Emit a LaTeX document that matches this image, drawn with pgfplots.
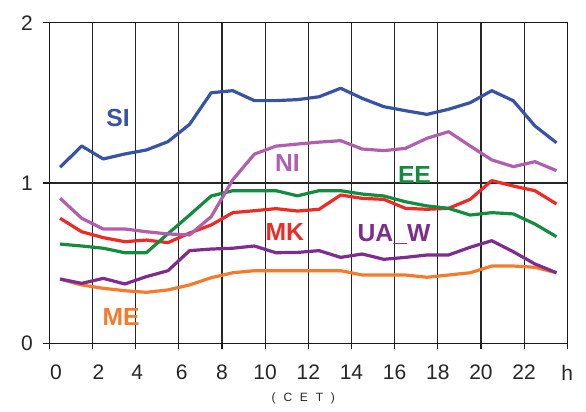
\documentclass[border=0pt]{standalone}
\usepackage{fontspec}
\setmainfont{Liberation Sans}
\usepackage{pgfplots}
\pgfplotsset{compat=1.18}
\definecolor{cSI}{HTML}{3953A4}
\definecolor{cNI}{HTML}{B05FB0}
\definecolor{cEE}{HTML}{148B3E}
\definecolor{cMK}{HTML}{EE2A24}
\definecolor{cUA}{HTML}{7E2C8E}
\definecolor{cME}{HTML}{F47B2C}
\begin{document}
\begin{tikzpicture}
\useasboundingbox (-49.3bp,-68.7bp) rectangle (536.7bp,343.3bp);
\begin{axis}[
  at={(0,0)}, anchor=origin,
  scale only axis, width=518bp, height=320.6bp,
  xmin=0, xmax=24, ymin=0, ymax=2,
  xtick={0,2,...,24},
  xticklabels={\hspace{13.4bp}0,\hspace{12bp}2,\hspace{3.4bp}4,\hspace{6bp}6,8\hspace{6bp},10,12,14,16,18,20,22,h},
  ytick={0,1,2},
  tick pos=left, tick align=outside,
  major tick length=6bp,
  tick style={black!90, line width=1.2bp},
  axis line style={black!90, line width=1.4bp},
  grid=major,
  major grid style={black!85, line width=1.1bp},
  /pgf/number format/assume math mode=true,
  ticklabel style={font=\fontsize{21bp}{21bp}\selectfont, text=black!85},
  xticklabel style={yshift=-12bp},
  yticklabel style={xshift=-7bp},
  every axis plot/.append style={line width=3.2bp, line join=round, mark=none},
  clip=false,
]
% ME
\addplot[cME] coordinates {(0.5,0.40)(1.5,0.364)(2.5,0.343)(3.5,0.328)(4.5,0.318)(5.5,0.333)(6.5,0.364)(7.5,0.409)(8.5,0.44)(9.5,0.453)(10.5,0.453)(11.5,0.453)(12.5,0.453)(13.5,0.453)(14.5,0.426)(15.5,0.426)(16.5,0.426)(17.5,0.412)(18.5,0.426)(19.5,0.44)(20.5,0.482)(21.5,0.482)(22.5,0.474)(23.5,0.44)};
% UA_W
\addplot[cUA] coordinates {(0.5,0.401)(1.5,0.374)(2.5,0.405)(3.5,0.370)(4.5,0.416)(5.5,0.453)(6.5,0.578)(7.5,0.588)(8.5,0.593)(9.5,0.607)(10.5,0.565)(11.5,0.567)(12.5,0.578)(13.5,0.536)(14.5,0.557)(15.5,0.524)(16.5,0.536)(17.5,0.551)(18.5,0.551)(19.5,0.599)(20.5,0.64)(21.5,0.571)(22.5,0.495)(23.5,0.44)};
% MK
\addplot[cMK] coordinates {(0.5,0.78)(1.5,0.696)(2.5,0.659)(3.5,0.634)(4.5,0.644)(5.5,0.628)(6.5,0.688)(7.5,0.738)(8.5,0.815)(9.5,0.827)(10.5,0.84)(11.5,0.825)(12.5,0.836)(13.5,0.925)(14.5,0.904)(15.5,0.898)(16.5,0.842)(17.5,0.836)(18.5,0.842)(19.5,0.898)(20.5,1.015)(21.5,0.981)(22.5,0.952)(23.5,0.869)};
% EE
\addplot[cEE] coordinates {(0.5,0.619)(1.5,0.607)(2.5,0.593)(3.5,0.565)(4.5,0.565)(5.5,0.684)(6.5,0.80)(7.5,0.919)(8.5,0.952)(9.5,0.952)(10.5,0.952)(11.5,0.92)(12.5,0.952)(13.5,0.952)(14.5,0.931)(15.5,0.919)(16.5,0.883)(17.5,0.857)(18.5,0.842)(19.5,0.80)(20.5,0.815)(21.5,0.807)(22.5,0.744)(23.5,0.665)};
% NI
\addplot[cNI] coordinates {(0.5,0.905)(1.5,0.78)(2.5,0.713)(3.5,0.713)(4.5,0.696)(5.5,0.682)(6.5,0.676)(7.5,0.79)(8.5,1.02)(9.5,1.18)(10.5,1.23)(11.5,1.243)(12.5,1.255)(13.5,1.264)(14.5,1.212)(15.5,1.202)(16.5,1.216)(17.5,1.279)(18.5,1.32)(19.5,1.231)(20.5,1.144)(21.5,1.102)(22.5,1.133)(23.5,1.077)};
% SI
\addplot[cSI] coordinates {(0.5,1.098)(1.5,1.231)(2.5,1.150)(3.5,1.181)(4.5,1.206)(5.5,1.258)(6.5,1.366)(7.5,1.563)(8.5,1.576)(9.5,1.514)(10.5,1.514)(11.5,1.52)(12.5,1.538)(13.5,1.591)(14.5,1.528)(15.5,1.476)(16.5,1.451)(17.5,1.428)(18.5,1.46)(19.5,1.501)(20.5,1.576)(21.5,1.513)(22.5,1.356)(23.5,1.251)};
\begin{scope}[every node/.style={font=\fontsize{24.7bp}{24.7bp}\selectfont\bfseries, anchor=base, inner sep=0pt}]
\node[text=cSI] at (axis cs:3.19,1.351) {SI};
\node[text=cNI] at (axis cs:11.03,1.0705) {NI};
\node[text=cEE] at (axis cs:16.92,0.994) {EE};
\node[text=cMK] at (axis cs:10.91,0.644) {MK};
\node[text=cUA] at (axis cs:15.97,0.634) {UA\_W};
\node[text=cME] at (axis cs:3.33,0.114) {ME};
\end{scope}
\node[font=\fontsize{12bp}{12bp}\selectfont, text=black!85, inner sep=0pt] at (axis cs:11.77,0) [yshift=-54.7bp] {(\hspace{7.8bp}C\hspace{7.8bp}E\hspace{7.8bp}T\hspace{7.8bp})};
\end{axis}
\end{tikzpicture}
\end{document}
